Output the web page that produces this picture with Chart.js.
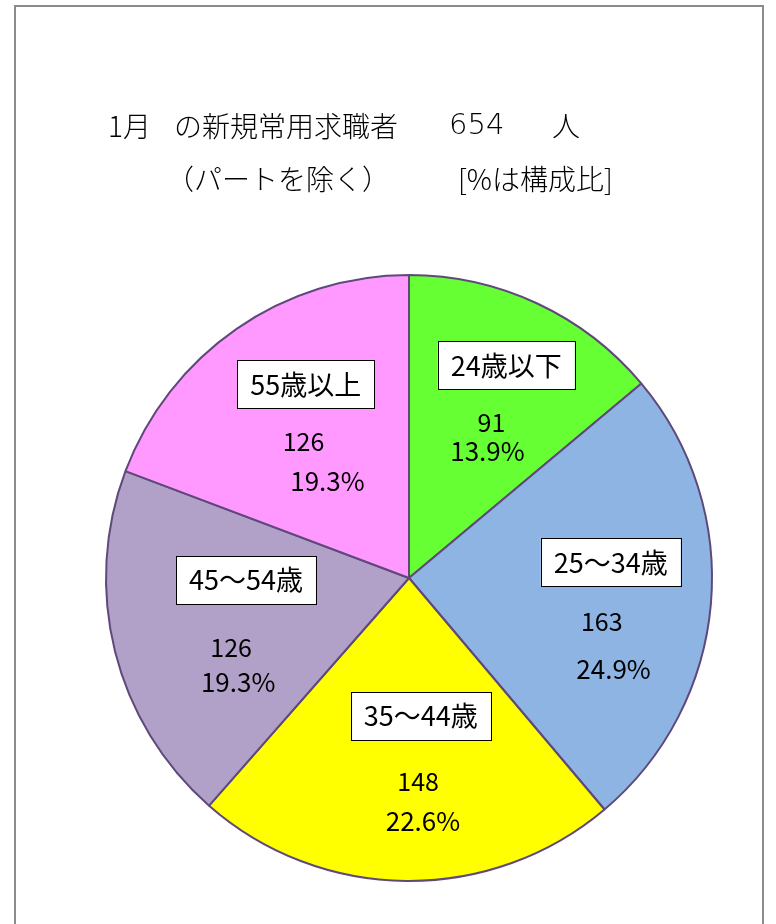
<!DOCTYPE html>
<html><head><meta charset="utf-8">
<script src="https://cdn.jsdelivr.net/npm/chart.js@4.4.0/dist/chart.umd.min.js"></script>
<style>html,body{margin:0;padding:0;background:#fff}#wrap{width:776px;height:924px;position:relative}</style>
</head><body><div id="wrap"><canvas id="c" width="776" height="924"></canvas></div>
<script>
const categories = ['24歳以下', '25〜34歳', '35〜44歳', '45〜54歳', '55歳以上'];
const counts = [91, 163, 148, 126, 126];
const colors = ['#66FF33', '#8DB4E2', '#FFFF00', '#B1A0C7', '#FF99FF'];
const monthLabel = '1月';

const total = counts.reduce((a, b) => a + b, 0);
const FONT = '"Noto Sans CJK JP", "Noto Sans", sans-serif';

// label layout offsets relative to pie center, in units of radius: [box, value, percent]
const labelLayout = [
  [[0.321, -0.702], [0.272, -0.512], [0.259, -0.420]],
  [[0.666, -0.052], [0.636, 0.144], [0.675, 0.302]],
  [[0.039, 0.456], [0.030, 0.672], [0.046, 0.803]],
  [[-0.538, 0.007], [-0.587, 0.230], [-0.564, 0.344]],
  [[-0.341, -0.639], [-0.348, -0.452], [-0.269, -0.321]]
];

const deco = {
  id: 'deco',
  beforeDraw(chart) {
    const ctx = chart.ctx;
    ctx.save();
    ctx.fillStyle = '#fff';
    ctx.fillRect(0, 0, chart.width, chart.height);
    ctx.strokeStyle = '#8c8c8c';
    ctx.lineWidth = 2;
    ctx.strokeRect(15, 6, 748, 940);
    ctx.fillStyle = '#000';
    ctx.textBaseline = 'middle';
    ctx.textAlign = 'left';
    ctx.font = '300 28px ' + FONT;
    ctx.fillText(monthLabel, 108, 126);
    ctx.fillText('の新規常用求職者', 174, 126);
    ctx.font = '300 29px "DejaVu Sans", ' + FONT;
    ctx.fillText(String(total), 449, 126);
    ctx.font = '300 28px ' + FONT;
    ctx.fillText('人', 552, 126);
    ctx.fillText('（パートを除く）', 166, 179);
    ctx.fillText('[%は構成比]', 458, 179);
    ctx.restore();
  },
  afterDatasetsDraw(chart) {
    const ctx = chart.ctx;
    const meta = chart.getDatasetMeta(0);
    ctx.save();
    ctx.textAlign = 'center';
    ctx.textBaseline = 'middle';
    meta.data.forEach((arc, i) => {
      const R = arc.outerRadius, cx = arc.x, cy = arc.y;
      const lay = labelLayout[i];
      ctx.font = '27px ' + FONT;
      const bx = cx + lay[0][0] * R, by = cy + lay[0][1] * R;
      const w = ctx.measureText(categories[i]).width + 26, h = 48;
      ctx.fillStyle = '#fff';
      ctx.fillRect(bx - w / 2, by - h / 2, w, h);
      ctx.strokeStyle = '#000';
      ctx.lineWidth = 1;
      ctx.strokeRect(Math.round(bx - w / 2) + 0.5, Math.round(by - h / 2) + 0.5, Math.round(w), h);
      ctx.fillStyle = '#000';
      ctx.fillText(categories[i], bx, by);
      ctx.font = '25px ' + FONT;
      ctx.fillText(String(counts[i]), cx + lay[1][0] * R, cy + lay[1][1] * R);
      ctx.font = '26px ' + FONT;
      ctx.fillText((counts[i] / total * 100).toFixed(1) + '%', cx + lay[2][0] * R, cy + lay[2][1] * R);
    });
    ctx.restore();
  }
};

new Chart(document.getElementById('c'), {
  type: 'pie',
  data: {
    labels: categories,
    datasets: [{
      data: counts,
      backgroundColor: colors,
      borderColor: '#5F497A',
      borderWidth: 2
    }]
  },
  options: {
    responsive: false,
    animation: false,
    events: [],
    rotation: 0,
    layout: { padding: { left: 105, right: 63, top: 272, bottom: 40 } },
    plugins: { legend: { display: false }, tooltip: { enabled: false }, title: { display: false } }
  },
  plugins: [deco]
});
</script></body></html>
